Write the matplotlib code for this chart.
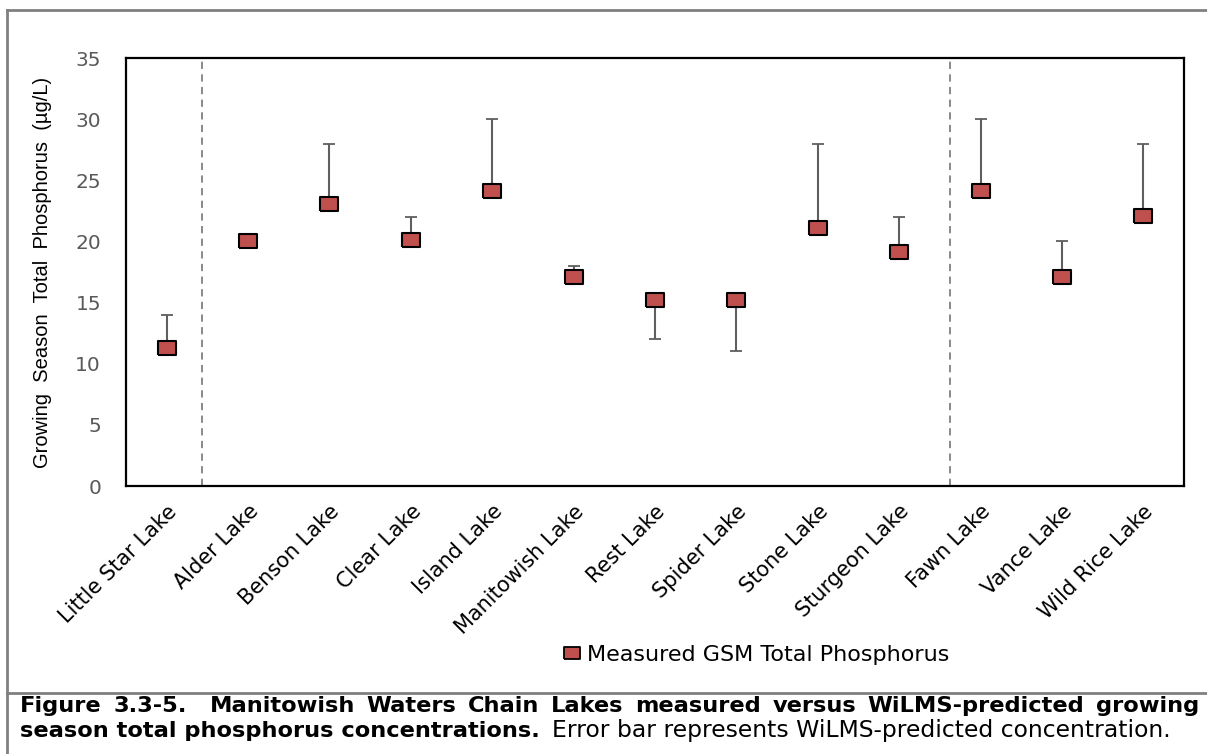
import matplotlib
matplotlib.use("Agg")
import matplotlib.pyplot as plt
from matplotlib.lines import Line2D

lakes = ["Little Star Lake", "Alder Lake", "Benson Lake", "Clear Lake", "Island Lake",
         "Manitowish Lake", "Rest Lake", "Spider Lake", "Stone Lake", "Sturgeon Lake",
         "Fawn Lake", "Vance Lake", "Wild Rice Lake"]
measured = [11.3, 20, 23.1, 20.1, 24.1, 17.1, 15.2, 15.2, 21.1, 19.1, 24.1, 17.1, 22.1]
predicted = [14, 20, 28, 22, 30, 18, 12, 11, 28, 22, 30, 20, 28]
yticks = [0, 5, 10, 15, 20, 25, 30, 35]

chart_font = "DejaVu Sans"
cap_font = "DejaVu Sans"

W, H = 1207, 754
fig = plt.figure(figsize=(W / 100, H / 100), dpi=100)
ax = fig.add_axes([126 / W, 1 - 486 / H, (1184 - 126) / W, (486 - 58) / H])

x = list(range(len(lakes)))
# one-sided bars from the measured value to the WiLMS prediction
lower = [max(m - p, 0) for m, p in zip(measured, predicted)]
upper = [max(p - m, 0) for m, p in zip(measured, predicted)]
ax.errorbar(x, measured, yerr=[lower, upper], fmt="none", ecolor="#5f5f5f",
            elinewidth=1.5, capsize=4.5, capthick=1.3, zorder=2)

box = [(-1, -0.76), (1, -0.76), (1, 0.76), (-1, 0.76), (-1, -0.76)]
ax.plot(x, measured, linestyle="none", marker=box, markersize=12.5,
        markerfacecolor="#c0504d", markeredgecolor="black", markeredgewidth=1.5, zorder=3)

ax.axvline(0.43, color="#808080", linestyle=(0, (4, 3)), linewidth=1.3, zorder=1)
ax.axvline(9.62, color="#808080", linestyle=(0, (4, 3)), linewidth=1.3, zorder=1)

ax.set_xlim(-0.5, len(lakes) - 0.5)
ax.set_ylim(0, 35)
ax.set_yticks(yticks)
ax.set_yticklabels([str(v) for v in yticks], fontsize=14.5, color="#595959", family=chart_font)
ax.set_xticks(x)
ax.set_xticklabels(lakes, rotation=45, ha="right", rotation_mode="anchor",
                   fontsize=15, family=chart_font)
ax.tick_params(axis="both", length=0)
ax.tick_params(axis="y", pad=18)
ax.tick_params(axis="x", pad=11)
for s in ax.spines.values():
    s.set_linewidth(1.6)
    s.set_color("black")

ax.set_ylabel("Growing  Season  Total  Phosphorus  (µg/L)", fontsize=14.5,
              family="Liberation Sans")
ax.yaxis.set_label_coords(-0.07, 0.5)

handle = Line2D([], [], linestyle="none", marker=box, markersize=11,
                markerfacecolor="#c0504d", markeredgecolor="black", markeredgewidth=1.3)
fig.legend([handle], ["Measured GSM Total Phosphorus"], loc="center",
           bbox_to_anchor=(757 / W, 1 - 655 / H), frameon=False, handlelength=0.7,
           handletextpad=0.3, prop={"family": chart_font, "size": 16})

# page frame around the figure and caption
frame = "#808080"
fig.add_artist(Line2D([7 / W, 7 / W], [0, 1 - 10 / H], color=frame, lw=2))
fig.add_artist(Line2D([7 / W, 1], [1 - 10 / H, 1 - 10 / H], color=frame, lw=2))
fig.add_artist(Line2D([7 / W, 1], [1 - 693 / H, 1 - 693 / H], color=frame, lw=2))

fig.canvas.draw()
renderer = fig.canvas.get_renderer()


def fit_size(text, width, **kw):
    # font size at which the text spans the given pixel width
    probe = fig.text(0, 0, text, fontsize=10, family=cap_font, **kw)
    w10 = probe.get_window_extent(renderer).width
    probe.remove()
    return 10 * width / w10


# caption, second line: bold lead-in then the plain sentence
x0, x1 = 20, 1199
bold2 = "season total phosphorus concentrations."
rest2 = "Error bar represents WiLMS-predicted concentration."
bold_size = fit_size(bold2, 540 - x0, fontweight="bold")
rest_size = 0.5 * (bold_size + fit_size(rest2, 1196 - 552))
fig.text(x0 / W, 1 - 737 / H, bold2, fontsize=bold_size, fontweight="bold",
         family=cap_font, va="baseline")
fig.text(552 / W, 1 - 737 / H, rest2, fontsize=rest_size, family=cap_font, va="baseline")

# caption, first line justified across the full width
line1 = ["Figure", "3.3-5.", "Manitowish", "Waters", "Chain", "Lakes", "measured",
         "versus", "WiLMS-predicted", "growing"]
gaps = [1, 2, 1, 1, 1, 1, 1, 1, 1]
words = []
for w in line1:
    t = fig.text(0, 1 - 712 / H, w, fontsize=bold_size, fontweight="bold", family=cap_font,
                 va="baseline", ha="left")
    words.append(t)
widths = [t.get_window_extent(renderer).width for t in words]
space = (x1 - x0 - sum(widths)) / sum(gaps)
pos = x0
for i, t in enumerate(words):
    t.set_x(pos / W)
    pos += widths[i] + (space * gaps[i] if i < len(gaps) else 0)

fig.savefig("out.png", dpi=100)
